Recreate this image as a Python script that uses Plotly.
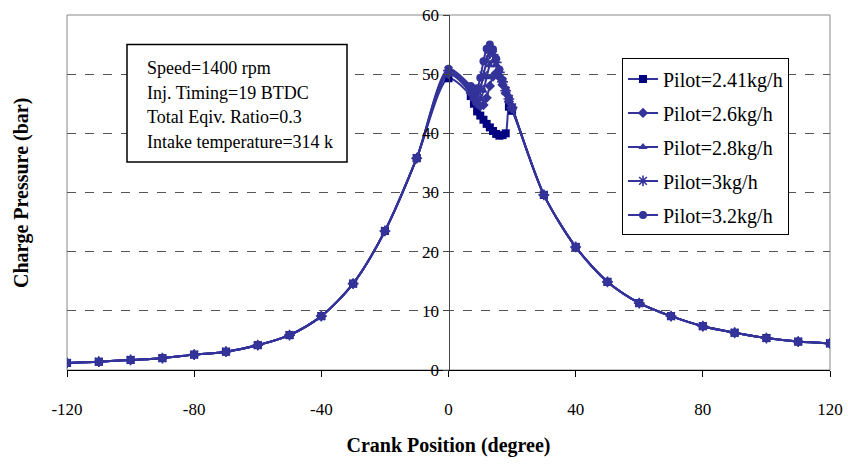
import plotly.graph_objects as go

# ---- data ----
crank = [-120, -110, -100, -90, -80, -70, -60, -50, -40, -30, -20, -10,
         0, 7, 8, 9, 10, 11, 12, 13, 14, 15, 16, 17, 18, 19, 20,
         30, 40, 50, 60, 70, 80, 90, 100, 110, 120]

left_tail = [1.2, 1.4, 1.7, 2.0, 2.6, 3.1, 4.2, 5.9, 9.1, 14.6, 23.5, 35.8]
right_tail = [29.6, 20.8, 14.9, 11.3, 9.1, 7.4, 6.3, 5.4, 4.8, 4.5]

peak_241 = [49.3, 46.3, 45.0, 43.7, 43.0, 42.3, 41.6, 41.0, 40.4, 39.9, 39.6, 39.7, 40.0, 44.5, 43.8]
peak_26 = [50.0, 46.8, 45.8, 45.0, 44.6, 44.8, 46.0, 48.0, 49.6, 50.2, 49.5, 48.2, 46.8, 45.4, 44.2]
peak_28 = [50.3, 47.2, 46.3, 45.7, 45.8, 47.2, 49.5, 51.5, 52.2, 51.5, 50.0, 48.5, 47.0, 45.6, 44.3]
peak_30 = [50.6, 47.6, 46.8, 46.5, 47.5, 49.8, 52.2, 53.6, 53.3, 52.0, 50.3, 48.7, 47.2, 45.8, 44.4]
peak_32 = [50.9, 48.0, 47.4, 47.6, 49.4, 52.2, 54.3, 55.0, 54.2, 52.6, 50.8, 49.0, 47.4, 46.0, 44.5]

series_names = ["Pilot=2.41kg/h", "Pilot=2.6kg/h", "Pilot=2.8kg/h", "Pilot=3kg/h", "Pilot=3.2kg/h"]
series_peaks = [peak_241, peak_26, peak_28, peak_30, peak_32]
series_symbols = ["square", "diamond", "triangle-up", "asterisk-open", "circle"]
series_marker_colors = ["#000080", "#333399", "#333399", "#333399", "#333399"]

x_ticks = [-120, -80, -40, 0, 40, 80, 120]
info_lines = ["Speed=1400 rpm", "Inj. Timing=19 BTDC", "Total Eqiv. Ratio=0.3",
              "Intake temperature=314 k"]

# ---- figure ----
fig = go.Figure()
line_col = "#333399"
for i, (name, pk, sym, mc) in enumerate(zip(series_names, series_peaks, series_symbols, series_marker_colors)):
    y = left_tail + pk + right_tail
    marker = dict(symbol=sym, size=8 if sym != "asterisk-open" else 9, color=mc)
    if sym == "asterisk-open":
        marker["line"] = dict(color=mc, width=1.6)
    fig.add_trace(go.Scatter(
        x=crank, y=y, name=name, mode="lines+markers",
        line=dict(color=line_col, width=2, shape="spline", smoothing=0.8),
        marker=marker, legendgroup=f"g{i}",
    ))

W, H = 848, 464
PL, PR, PT, PB = 67, 830, 14.5, 370.5
PW, PH = PR - PL, PB - PT


def px(xp):
    return (xp - PL) / PW


def py(yp):
    return (PB - yp) / PH


fig.update_layout(
    width=W, height=H,
    margin=dict(l=PL, r=W - PR, t=PT, b=H - PB, autoexpand=False),
    plot_bgcolor="white", paper_bgcolor="white",
    font=dict(family="Liberation Serif", color="black"),
    showlegend=True,
    legend=dict(x=px(622), y=py(58), xanchor="left", yanchor="top",
                bordercolor="black", borderwidth=1, bgcolor="white",
                font=dict(size=20, family="Liberation Serif", color="black"),
                tracegroupgap=5, itemwidth=30),
)

fig.update_xaxes(
    range=[-120, 120], tickvals=x_ticks, ticktext=[str(v) for v in x_ticks],
    ticks="outside", ticklen=6, tickcolor="black",
    showline=True, linecolor="black", linewidth=1,
    showgrid=False, zeroline=False, automargin=False,
    tickfont=dict(size=17, family="Liberation Serif"),
    ticklabelstandoff=18, ticklabeloverflow="allow",
    title=dict(text="<b>Crank Position (degree)</b>",
               font=dict(size=20, family="Liberation Serif"), standoff=19),
)

fig.update_yaxes(
    range=[0, 60], dtick=10, anchor="free", position=0.5,
    ticks="outside", ticklen=6, tickcolor="#444",
    showline=True, linecolor="#444", linewidth=1,
    showgrid=True, gridcolor="#555", griddash="dash", gridwidth=1,
    zeroline=False, automargin=False, ticklabeloverflow="allow",
    tickfont=dict(size=17, family="Liberation Serif"),
)

# plot frame
fig.add_shape(type="rect", xref="paper", yref="paper", x0=0, x1=1, y0=0, y1=1,
              line=dict(color="#888", width=1), layer="below")

# y-axis title at far left
fig.add_annotation(text="<b>Charge Pressure (bar)</b>", xref="paper", yref="paper",
                   x=px(22), y=py(193), textangle=-90, showarrow=False,
                   xanchor="center", yanchor="middle",
                   font=dict(size=20, family="Liberation Serif"))

# info box
fig.add_shape(type="rect", xref="paper", yref="paper",
              x0=px(127), x1=px(347), y0=py(162), y1=py(44),
              line=dict(color="black", width=1.5), fillcolor="white")
for k, txt in enumerate(info_lines):
    fig.add_annotation(text=txt, xref="paper", yref="paper",
                       x=px(145), y=py(68 + 24.5 * k),
                       xanchor="left", yanchor="middle", showarrow=False,
                       font=dict(size=18, family="Liberation Serif"))

fig.write_html("out.html", config={"displayModeBar": False},
               post_script="document.body.style.margin='0';document.body.style.overflow='hidden';")
